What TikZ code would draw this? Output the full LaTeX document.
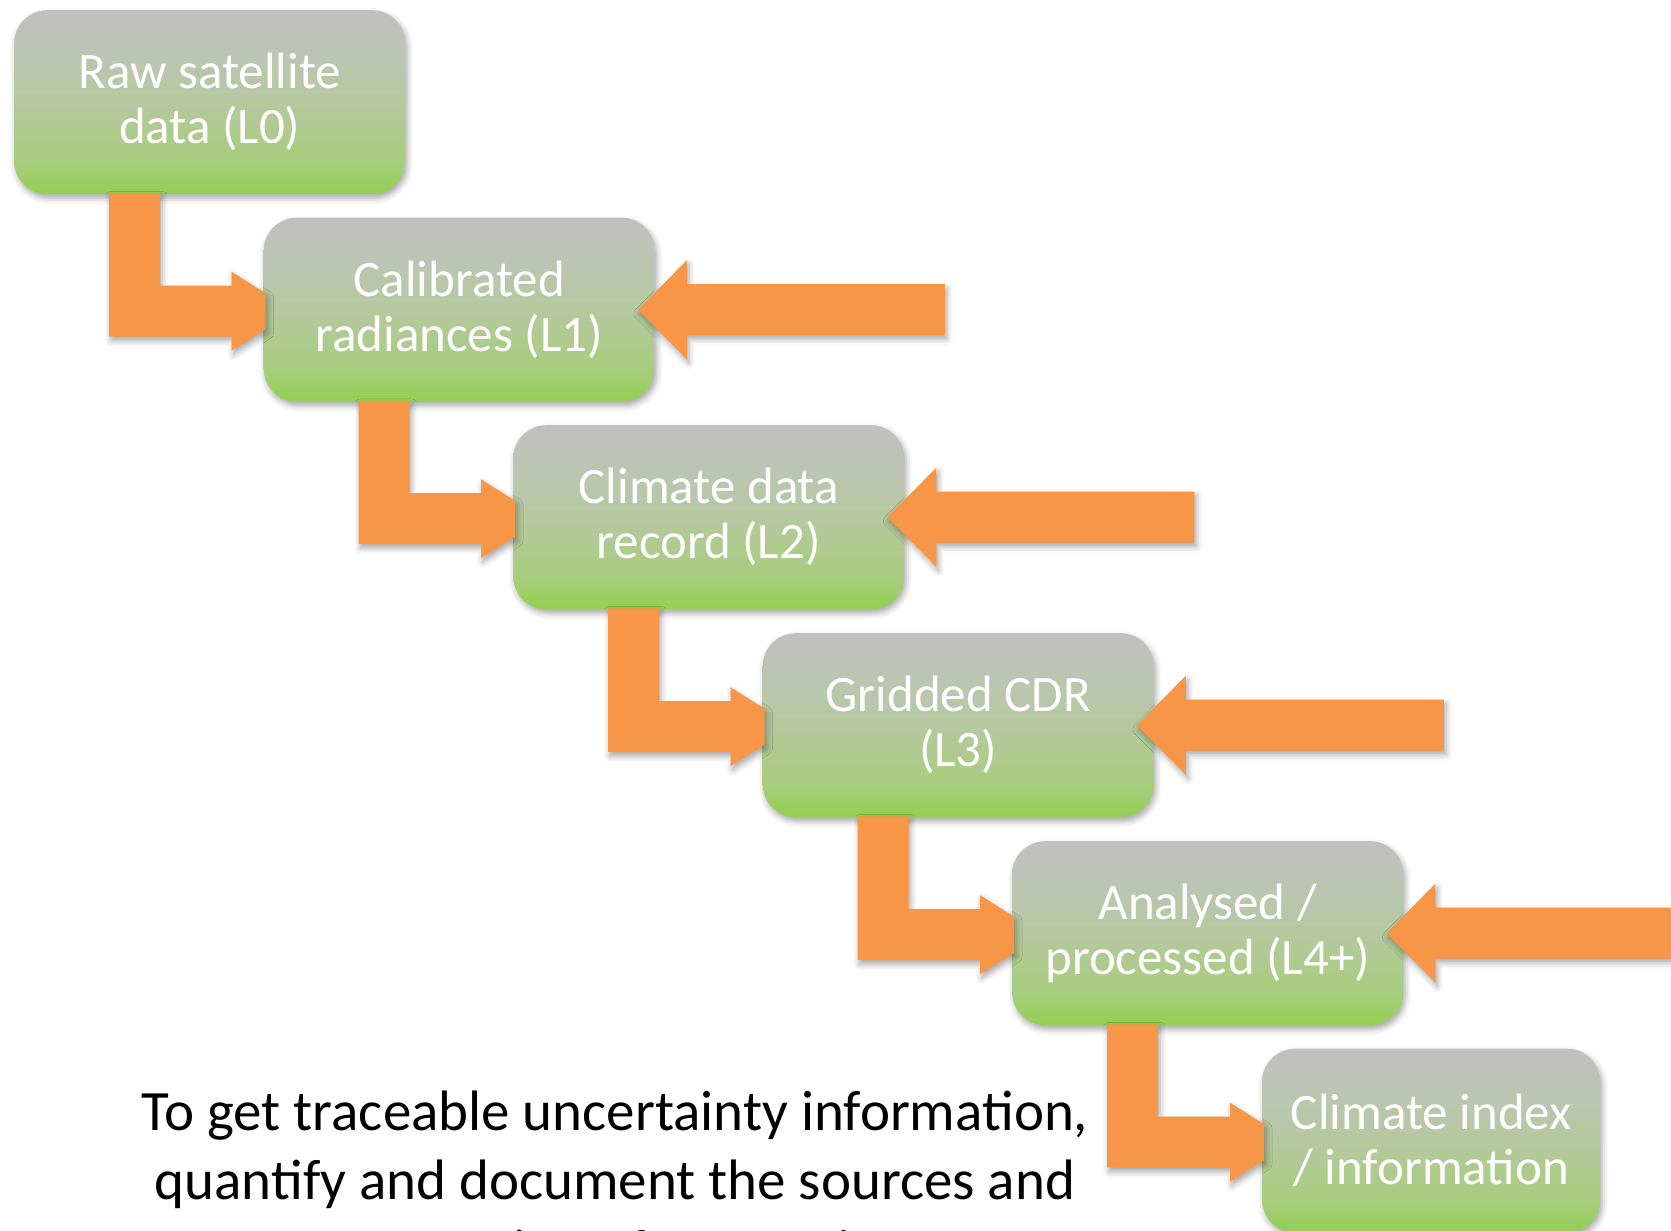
\documentclass[tikz,border=0pt]{standalone}
\usepackage{fontspec}
\setmainfont{Carlito}
\usetikzlibrary{calc,shadows.blur}

\definecolor{flowOrange}{RGB}{246,150,70}
\definecolor{boxGreen}{RGB}{146,208,80}
\definecolor{boxGreenB}{RGB}{153,207,94}
\definecolor{boxGreenC}{RGB}{166,205,122}
\definecolor{boxMid}{RGB}{180,201,155}
\definecolor{boxGreyB}{RGB}{188,197,178}
\definecolor{boxGrey}{RGB}{192,193,189}

% grey at the top fading into green at the bottom (the path spans 25bp..75bp)
\pgfdeclareverticalshading{levelshade}{100bp}{color(0bp)=(boxGreen); color(25bp)=(boxGreen); color(28bp)=(boxGreenB); color(33bp)=(boxGreenC); color(48bp)=(boxMid); color(62bp)=(boxGreyB); color(70bp)=(boxGrey); color(100bp)=(boxGrey)}

\tikzset{
  softshadow/.style={blur shadow={shadow xshift=2pt, shadow yshift=-4pt, shadow blur radius=6pt, shadow opacity=35}},
  level/.style={shade, shading=levelshade, rounded corners=33pt, anchor=north west,
    minimum width=391pt, minimum height=184pt, inner sep=0pt, align=center,
    text=white, font=\fontsize{51}{55}\selectfont, softshadow},
  flow/.style={fill=flowOrange, draw=none, softshadow},
  note/.style={font=\fontsize{57}{69.5}\selectfont, align=center, text=black, anchor=north},
}

\begin{document}
\begin{tikzpicture}[x=1pt,y=-1pt]
\useasboundingbox (0,0) rectangle (1671,1231);

% processing levels
\node[level] (b0) at (14,10)      {Raw satellite\\data (L0)};
\node[level] (b1) at (263.5,217.5) {Calibrated\\radiances (L1)};
\node[level] (b2) at (513,425)    {Climate data\\record (L2)};
\node[level] (b3) at (762.5,633)  {Gridded CDR\\(L3)};
\node[level] (b4) at (1012,841)   {Analysed /\\processed (L4+)};
\node[level, minimum width=338pt] (b5) at (1262,1048.5) {Climate index\\/ information};

% bent arrows from each level down into the next; the head is cut off at the box edge
\foreach \a/\b in {b0/b1,b1/b2,b2/b3,b3/b4,b4/b5}{
  \path[flow] let \p1=(\a.south west), \p2=(\b.west), \n1={\y2-1.5pt} in
    (\x1+95pt,\y1+1pt) -- (\x1+146pt,\y1+1pt) -- (\x1+146pt,\n1+25.5pt)
    -- (\x2-32pt,\n1+25.5pt) -- (\x2-32pt,\n1+39.5pt) -- (\x2+2pt,\n1+18pt)
    -- (\x2+2pt,\n1-18pt) -- (\x2-32pt,\n1-39.5pt) -- (\x2-32pt,\n1-25.5pt)
    -- (\x1+95pt,\n1-25.5pt) -- cycle;
}

% external inputs entering levels L1 to L4+ from the right
\foreach \b in {b1,b2,b3,b4}{
  \coordinate (src-\b) at ($(\b.east)+(290,0)$);
  \path[flow] let \p1=(\b.east), \p2=(src-\b) in
    (\x1-17pt,\y1) -- (\x1+32pt,\y1+49.5pt) -- (\x1+32pt,\y1+25.5pt)
    -- (\x2,\y1+25.5pt) -- (\x2,\y1-25.5pt) -- (\x1+32pt,\y1-25.5pt)
    -- (\x1+32pt,\y1-49.5pt) -- cycle;
}

% statement below the cascade
\node[note] (msg) at (615,1087) {To get traceable uncertainty information,\\quantify and document the sources and\\propagation of uncertainty};
\end{tikzpicture}
\end{document}
